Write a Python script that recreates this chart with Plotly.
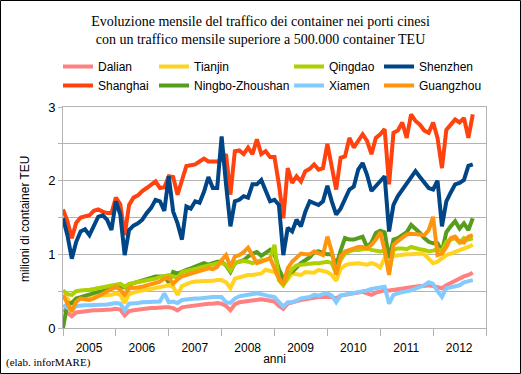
import plotly.graph_objects as go

years = ["2005", "2006", "2007", "2008", "2009", "2010", "2011", "2012"]

dalian = [0.25, 0.20, 0.16, 0.21, 0.22, 0.23, 0.24, 0.24, 0.24, 0.24, 0.25, 0.25,
          0.26, 0.25, 0.17, 0.23, 0.24, 0.25, 0.26, 0.26, 0.27, 0.27, 0.28, 0.28,
          0.28, 0.27, 0.24, 0.28, 0.29, 0.30, 0.31, 0.31, 0.32, 0.33, 0.33, 0.34,
          0.33, 0.30, 0.24, 0.32, 0.35, 0.36, 0.37, 0.38, 0.39, 0.39, 0.38, 0.37,
          0.36, 0.30, 0.26, 0.33, 0.35, 0.37, 0.38, 0.39, 0.40, 0.42, 0.42, 0.42,
          0.42, 0.42, 0.40, 0.44, 0.45, 0.46, 0.47, 0.48, 0.49, 0.47, 0.45, 0.48,
          0.50, 0.51, 0.51, 0.52, 0.53, 0.54, 0.55, 0.56, 0.56, 0.57, 0.57, 0.58,
          0.57, 0.56, 0.54, 0.58, 0.61, 0.65, 0.68, 0.70, 0.72, 0.75]

shanghai = [1.61, 1.45, 1.22, 1.43, 1.50, 1.52, 1.53, 1.59, 1.61, 1.58, 1.56, 1.56,
            1.77, 1.68, 1.26, 1.67, 1.77, 1.80, 1.86, 1.90, 1.94, 1.99, 1.90, 1.91,
            2.06, 2.05, 1.81, 1.99, 2.20, 2.21, 2.22, 2.26, 2.30, 2.26, 2.26, 2.26,
            2.28, 2.36, 1.81, 2.40, 2.41, 2.36, 2.45, 2.36, 2.56, 2.36, 2.40, 2.32,
            2.32, 1.95, 1.49, 2.17, 1.97, 2.06, 1.99, 2.13, 2.16, 2.22, 2.15, 2.17,
            2.50, 2.20, 1.88, 2.31, 2.33, 2.58, 2.45, 2.54, 2.63, 2.54, 2.36, 2.58,
            2.63, 2.70, 1.95, 2.65, 2.68, 2.79, 2.58, 2.90, 2.81, 2.76, 2.68, 2.65,
            2.79, 2.58, 2.17, 2.69, 2.76, 2.83, 2.79, 2.85, 2.58, 2.90]

tianjin = [0.42, 0.40, 0.30, 0.40, 0.40, 0.41, 0.40, 0.42, 0.43, 0.44, 0.44, 0.45,
           0.47, 0.45, 0.34, 0.46, 0.48, 0.50, 0.51, 0.52, 0.53, 0.54, 0.55, 0.56,
           0.58, 0.56, 0.45, 0.57, 0.60, 0.62, 0.63, 0.63, 0.63, 0.64, 0.64, 0.65,
           0.65, 0.62, 0.54, 0.67, 0.69, 0.71, 0.72, 0.72, 0.73, 0.74, 0.79, 0.77,
           0.76, 0.70, 0.59, 0.66, 0.74, 0.73, 0.72, 0.76, 0.75, 0.75, 0.79, 0.78,
           0.76, 0.72, 0.64, 0.80, 0.85, 0.87, 0.88, 0.88, 0.87, 0.86, 0.88, 0.86,
           0.82, 0.95, 0.97, 0.98, 0.99, 0.99, 1.00, 1.00, 1.01, 1.01, 1.00, 0.93,
           0.88, 0.90, 0.95, 0.99, 1.01, 1.03, 1.05, 1.07, 1.10, 1.13]

ningbo = [0.00, 0.33, 0.34, 0.40, 0.42, 0.44, 0.46, 0.47, 0.49, 0.50, 0.52, 0.54,
          0.56, 0.57, 0.55, 0.59, 0.61, 0.63, 0.65, 0.66, 0.68, 0.70, 0.70, 0.70,
          0.62, 0.76, 0.74, 0.77, 0.79, 0.81, 0.83, 0.85, 0.88, 0.86, 0.88, 0.90,
          0.90, 0.85, 0.76, 0.88, 0.90, 0.92, 0.97, 1.01, 1.03, 0.98, 1.02, 1.06,
          1.00, 0.80, 0.67, 0.74, 0.76, 0.83, 0.88, 0.92, 0.96, 1.03, 1.04, 1.02,
          1.00, 1.00, 0.85, 1.05, 1.22, 1.20, 1.20, 1.22, 1.24, 1.10, 1.16, 1.29,
          1.32, 1.30, 0.95, 1.20, 1.22, 1.26, 1.30, 1.40, 1.35, 1.29, 1.22, 1.17,
          1.15, 1.15, 1.04, 1.30, 1.38, 1.45, 1.35, 1.42, 1.33, 1.49]

qingdao = [0.51, 0.46, 0.45, 0.50, 0.51, 0.51, 0.52, 0.53, 0.54, 0.55, 0.56, 0.58,
           0.59, 0.60, 0.56, 0.60, 0.61, 0.62, 0.63, 0.65, 0.66, 0.67, 0.69, 0.70,
           0.72, 0.70, 0.68, 0.76, 0.77, 0.79, 0.80, 0.82, 0.84, 0.85, 0.86, 0.88,
           0.88, 0.86, 0.78, 0.88, 0.90, 0.91, 0.90, 0.88, 0.90, 0.92, 0.92, 0.95,
           1.13, 0.65, 0.58, 0.70, 0.80, 0.85, 0.86, 0.87, 0.87, 0.88, 0.88, 0.89,
           0.90, 0.88, 0.74, 0.92, 1.01, 1.04, 1.06, 1.06, 1.07, 1.08, 1.06, 1.05,
           1.04, 1.05, 0.76, 1.06, 1.08, 1.08, 1.07, 1.10, 1.08, 1.07, 1.06, 1.04,
           1.05, 1.07, 1.05, 1.17, 1.20, 1.22, 1.16, 1.22, 1.20, 1.22]

xiamen = [0.31, 0.28, 0.24, 0.30, 0.31, 0.31, 0.31, 0.31, 0.31, 0.32, 0.32, 0.33,
          0.34, 0.33, 0.24, 0.33, 0.33, 0.34, 0.35, 0.35, 0.35, 0.36, 0.36, 0.47,
          0.35, 0.36, 0.34, 0.38, 0.39, 0.40, 0.40, 0.40, 0.41, 0.42, 0.42, 0.42,
          0.42, 0.35, 0.34, 0.40, 0.43, 0.44, 0.45, 0.46, 0.47, 0.46, 0.44, 0.43,
          0.42, 0.36, 0.29, 0.35, 0.35, 0.37, 0.40, 0.41, 0.42, 0.45, 0.44, 0.46,
          0.47, 0.44, 0.35, 0.44, 0.45, 0.46, 0.47, 0.48, 0.50, 0.51, 0.53, 0.54,
          0.55, 0.56, 0.33, 0.45, 0.47, 0.49, 0.50, 0.51, 0.53, 0.56, 0.58, 0.62,
          0.60, 0.50, 0.42, 0.54, 0.55, 0.56, 0.58, 0.62, 0.63, 0.65]

shenzhen = [1.49, 1.26, 0.94, 1.17, 1.31, 1.34, 1.26, 1.38, 1.51, 1.53, 1.47, 1.33,
            1.72, 1.54, 0.99, 1.33, 1.39, 1.42, 1.47, 1.56, 1.63, 1.74, 1.72, 1.59,
            2.06, 1.58, 1.42, 1.20, 1.65, 1.62, 1.72, 1.70, 1.85, 2.05, 1.90, 1.90,
            2.60, 1.95, 1.38, 1.72, 1.74, 1.79, 1.77, 1.95, 1.95, 2.01, 1.86, 1.72,
            1.74, 1.67, 0.99, 1.36, 1.31, 1.47, 1.38, 1.58, 1.72, 1.70, 1.67, 1.72,
            1.93, 1.72, 1.54, 1.62, 1.75, 1.88, 1.92, 2.15, 2.24, 2.08, 1.86, 1.93,
            1.98, 2.06, 1.31, 1.67, 1.79, 1.88, 1.97, 2.04, 2.13, 2.05, 1.97, 1.90,
            1.88, 2.00, 1.38, 1.72, 1.84, 1.95, 1.97, 2.01, 2.20, 2.22]

guangzhou = [0.45, 0.33, 0.22, 0.36, 0.40, 0.39, 0.38, 0.40, 0.43, 0.46, 0.49, 0.53,
             0.56, 0.52, 0.45, 0.54, 0.54, 0.55, 0.56, 0.58, 0.60, 0.62, 0.63, 0.67,
             0.68, 0.60, 0.66, 0.70, 0.72, 0.73, 0.75, 0.77, 0.79, 0.81, 0.80, 0.83,
             0.92, 0.99, 0.83, 0.97, 0.99, 1.03, 1.09, 0.99, 0.88, 0.90, 0.92, 0.95,
             0.81, 0.67, 0.59, 0.81, 0.90, 0.95, 1.01, 1.00, 1.00, 1.04, 1.01, 0.99,
             1.24, 1.04, 0.72, 0.97, 1.04, 1.06, 1.08, 1.10, 1.10, 1.08, 1.13, 1.20,
             1.30, 1.05, 0.72, 1.13, 1.18, 1.22, 1.27, 1.28, 1.28, 1.27, 1.26, 1.33,
             1.51, 0.99, 1.01, 1.10, 1.22, 1.24, 1.17, 1.16, 1.24, 1.26]

series = [
    ("Dalian", dalian, "#ff8080", "legend"),
    ("Shanghai", shanghai, "#ff420e", "legend"),
    ("Tianjin", tianjin, "#ffd320", "legend2"),
    ("Ningbo-Zhoushan", ningbo, "#579d1c", "legend2"),
    ("Qingdao", qingdao, "#aecf00", "legend3"),
    ("Xiamen", xiamen, "#83caff", "legend3"),
    ("Shenzhen", shenzhen, "#004586", "legend4"),
    ("Guangzhou", guangzhou, "#ff950e", "legend4"),
]

fig = go.Figure()
for name, vals, color, lg in series:
    fig.add_trace(go.Scatter(
        x=list(range(len(vals))), y=vals, name=name, mode="lines",
        line=dict(color=color, width=4), legend=lg,
    ))

W, H = 521, 374
ML, MR, MT, MB = 63, 35, 107, 46
PW, PH = W - ML - MR, H - MT - MB
grid = "#b3b3b3"
sans = "Liberation Sans, Arial, sans-serif"
serif = "Liberation Serif, Times New Roman, serif"
n_months = 12 * len(years)
half_year_px = int(round(PW / len(years) / 2))

leg_common = dict(orientation="v", xref="container", yref="container",
                  xanchor="left", yanchor="top", bgcolor="rgba(0,0,0,0)",
                  font=dict(family=sans, size=12, color="black"),
                  itemwidth=30, tracegroupgap=0)
legx = [58, 154, 289, 379]
legy = 1 - 52 / H
fig.update_layout(
    width=W, height=H,
    margin=dict(l=ML, r=MR, t=MT, b=MB, pad=0, autoexpand=False),
    paper_bgcolor="white", plot_bgcolor="white",
    showlegend=True,
    legend=dict(x=legx[0] / W, y=legy, **leg_common),
    legend2=dict(x=legx[1] / W, y=legy, **leg_common),
    legend3=dict(x=legx[2] / W, y=legy, **leg_common),
    legend4=dict(x=legx[3] / W, y=legy, **leg_common),
    title=dict(
        text="Evoluzione mensile del traffico dei container nei porti cinesi<br>"
             "con un traffico mensile superiore a 500.000 container TEU",
        x=0.5, xanchor="center", xref="container",
        y=1 - 26 / H, yanchor="top", yref="container",
        font=dict(family=serif, size=14, color="black"),
    ),
    xaxis=dict(
        range=[0, n_months],
        tickmode="array", tickvals=list(range(0, n_months + 1, 12)),
        ticktext=years + [""], ticklabelshift=half_year_px,
        ticklabelstandoff=2,
        ticks="outside", ticklen=7, tickcolor=grid, tickwidth=1,
        showgrid=False, zeroline=False,
        showline=True, linecolor=grid, linewidth=1, mirror=True,
        tickfont=dict(family=sans, size=12, color="black"),
        title=dict(text="anni", font=dict(family=sans, size=12, color="black"),
                   standoff=0),
    ),
    yaxis=dict(
        range=[0, 3],
        tickmode="array", tickvals=[0, 0.5, 1, 1.5, 2, 2.5, 3],
        ticktext=["0", "", "1", "", "2", "", "3"],
        ticks="outside", ticklen=4, tickcolor=grid,
        showgrid=True, gridcolor=grid, gridwidth=1, zeroline=False,
        showline=True, linecolor=grid, linewidth=1, mirror=True,
        tickfont=dict(family=sans, size=13, color="black"),
    ),
    annotations=[
        dict(
            text="milioni di container TEU", xref="paper", yref="paper",
            x=-(ML - 25) / PW, y=(H - MB - 219) / PH, textangle=-90,
            xanchor="center", yanchor="middle", showarrow=False,
            font=dict(family=sans, size=12, color="black"),
        ),
        dict(
            text="(elab. inforMARE)", xref="paper", yref="paper",
            x=-(ML - 4) / PW, y=-(362 - (H - MB)) / PH,
            xanchor="left", yanchor="middle", showarrow=False,
            font=dict(family=serif, size=11, color="black"),
        ),
    ],
    shapes=[dict(
        type="rect", xref="paper", yref="paper",
        x0=-(ML - 0.5) / PW, x1=1 + (MR - 0.5) / PW,
        y0=-(MB - 0.5) / PH, y1=1 + (MT - 0.5) / PH,
        line=dict(color="black", width=1), fillcolor="rgba(0,0,0,0)",
    )],
)

fig.write_html("out.html", config={"displayModeBar": False},
               post_script="document.body.style.margin='0px';"
                           "document.body.style.padding='0px';")
